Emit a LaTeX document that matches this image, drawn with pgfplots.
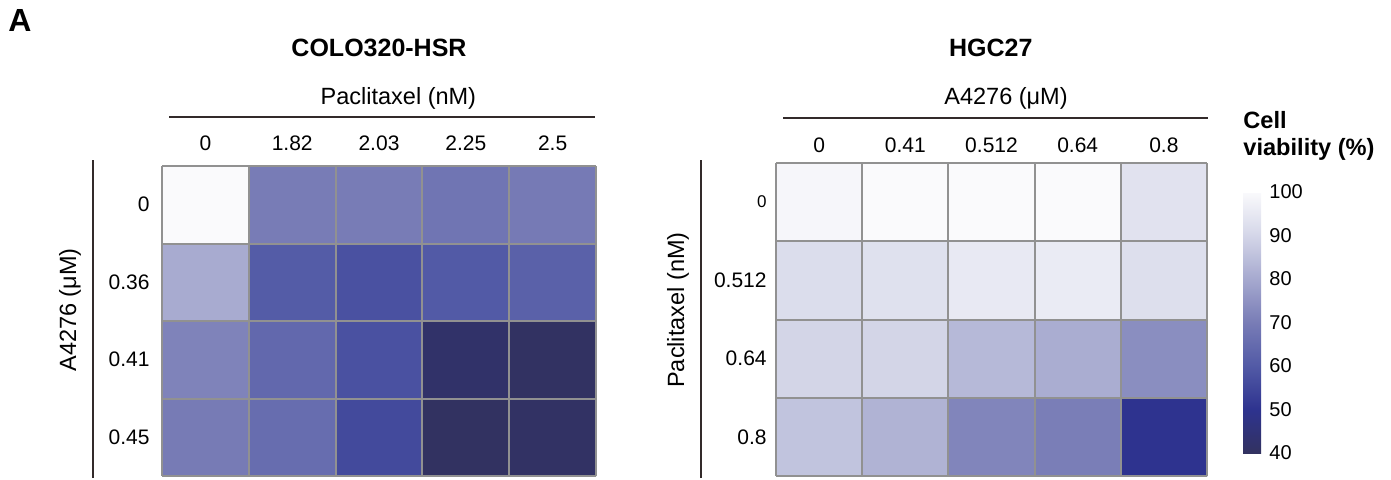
\documentclass[border=0pt]{standalone}
\usepackage{fontspec}
\setmainfont{Liberation Sans}
\usepackage{pgfplots}
\pgfplotsset{compat=1.18}
\definecolor{cellgrid}{RGB}{145,145,145}
\definecolor{linecol}{RGB}{50,42,42}

\pgfplotsset{
  hm/.style={
    scale only axis,
    xmin=-0.5,xmax=4.5,ymin=-0.5,ymax=3.5,
    y dir=reverse,
    xtick={0,1,2,3,4}, ytick={0,1,2,3},
    minor xtick={-0.5,0.5,1.5,2.5,3.5,4.5},
    minor ytick={-0.5,0.5,1.5,2.5,3.5},
    grid=minor,
    minor grid style={draw=cellgrid, line width=1pt},
    axis on top,
    axis line style={draw=none},
    major tick length=0pt, minor tick length=0pt,
    xticklabel pos=right,
    tick label style={font=\fontsize{10.5}{12}\selectfont},
    colormap={viab}{rgb255=(50,50,96) rgb255=(46,51,143) rgb255=(82,90,166) rgb255=(120,124,182) rgb255=(166,169,207) rgb255=(212,214,232) rgb255=(250,250,252)},
    point meta min=40, point meta max=100,
  }
}

\begin{document}
\begin{tikzpicture}
\path[use as bounding box] (0pt,0pt) rectangle (695.5pt,239.5pt);

% COLO320-HSR
\begin{axis}[hm, at={(81pt,1.5pt)}, anchor=south west, width=217pt, height=155pt,
  xticklabels={0,1.82,2.03,2.25,2.5}, yticklabels={0,0.36,0.41,0.45},
  xticklabel style={anchor=base, yshift=8pt},
  yticklabel style={anchor=east, inner sep=0pt, xshift=-6pt}]
\addplot[matrix plot*, mesh/cols=5, point meta=explicit] table[x=x, y=y, meta=v] {
x y v
0 0 100
1 0 70
2 0 70
3 0 68
4 0 69.5
0 1 80.4
1 1 60.5
2 1 57.8
3 1 60
4 1 62
0 2 71.5
1 2 64.2
2 2 57.8
3 2 42
4 2 40.5
0 3 69.7
1 3 65.5
2 3 55.8
3 3 40.3
4 3 40.8
};
\end{axis}

% HGC27
\begin{axis}[hm, at={(388pt,1.5pt)}, anchor=south west, width=215.5pt, height=156.5pt,
  xticklabels={0,0.41,0.512,0.64,0.8},
  yticklabels={{\fontsize{8.5}{10}\selectfont 0},0.512,0.64,0.8},
  xticklabel style={anchor=base, yshift=5.5pt},
  yticklabel style={anchor=east, inner sep=0pt, xshift=-4.5pt},
  colorbar,
  colorbar style={scale only axis, width=9pt, height=130.5pt,
    at={(parent axis.north east)}, anchor=north west, xshift=9.5pt, yshift=-14.5pt,
    ytick={40,50,60,70,80,90,100}, major tick length=0pt,
    axis line style={draw=none},
    yticklabel style={font=\fontsize{10}{12}\selectfont, anchor=west, inner sep=0pt, xshift=4pt},
    /pgf/number format/assume math mode=true}]
\addplot[matrix plot*, mesh/cols=5, point meta=explicit] table[x=x, y=y, meta=v] {
x y v
0 0 99
1 0 100
2 0 100
3 0 100
4 0 93.4
0 1 92
1 1 93
2 1 95.3
3 1 95.8
4 1 92.5
0 2 89.8
1 2 89.8
2 2 83.5
3 2 81
4 2 74
0 3 86
1 3 82.2
2 3 72
3 3 70.4
4 3 50
};
\end{axis}

\node[font=\bfseries\fontsize{16}{18}\selectfont, anchor=base west, inner sep=0pt] at (4pt,224pt) {A};
\node[font=\bfseries\fontsize{12.5}{15}\selectfont, anchor=base] at (189.5pt,211.2pt) {COLO320-HSR};
\node[font=\bfseries\fontsize{12.5}{15}\selectfont, anchor=base] at (495.4pt,211.2pt) {HGC27};
\node[font=\fontsize{11.75}{14}\selectfont, anchor=base] at (199.2pt,187.5pt) {Paclitaxel (nM)};
\node[font=\fontsize{11.75}{14}\selectfont, anchor=base] at (503pt,187.5pt) {A4276 (μM)};
\draw[linecol, line width=0.75pt] (84.5pt,181pt) -- (297.5pt,181pt);
\draw[linecol, line width=0.75pt] (391.5pt,180.5pt) -- (604pt,180.5pt);
\draw[linecol, line width=0.75pt] (46.5pt,0.5pt) -- (46.5pt,159.5pt);
\draw[linecol, line width=0.75pt] (350.5pt,0.5pt) -- (350.5pt,159.5pt);
\node[rotate=90, font=\fontsize{11.75}{14}\selectfont] at (35pt,84.5pt) {A4276 (μM)};
\node[rotate=90, font=\fontsize{11.75}{14}\selectfont] at (339pt,84.5pt) {Paclitaxel (nM)};
\node[font=\bfseries\fontsize{11.8}{14}\selectfont, anchor=base west, inner sep=0pt] at (621.5pt,175.5pt) {Cell};
\node[font=\bfseries\fontsize{11.8}{14}\selectfont, anchor=base west, inner sep=0pt] at (621.5pt,162pt) {viability (\%)};
\end{tikzpicture}
\end{document}
